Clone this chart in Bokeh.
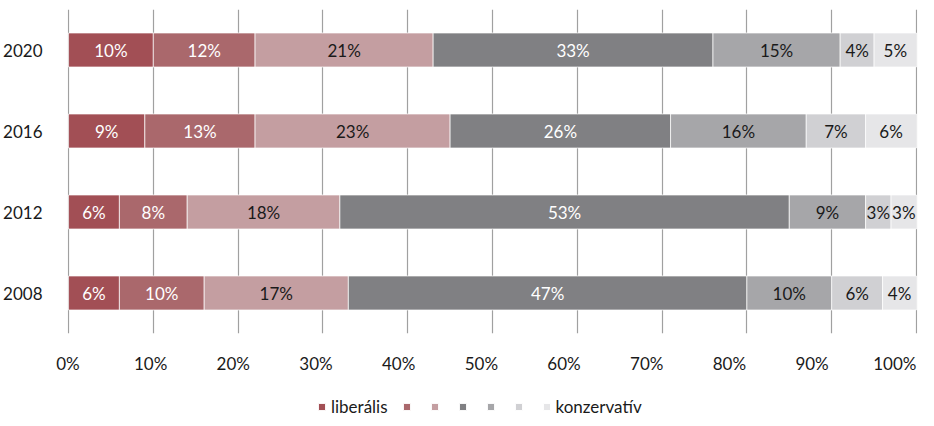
from bokeh.plotting import figure
from bokeh.layouts import column
from bokeh.models import (ColumnDataSource, FactorRange, Range1d, LinearAxis,
                          FixedTicker, Grid, Legend, LegendItem)
from bokeh.core.properties import value
from bokeh.embed import file_html
from bokeh.resources import INLINE

# ---- data ----
years = ["2008", "2012", "2016", "2020"]
s1 = [6, 6, 9, 10]      # liberális
s2 = [10, 8, 13, 12]
s3 = [17, 18, 23, 21]
s4 = [47, 53, 26, 33]
s5 = [10, 9, 16, 15]
s6 = [6, 3, 7, 4]
s7 = [4, 3, 6, 5]       # konzervatív
legend_labels = ["liberális", "", "", "", "", "", "konzervatív"]
tick_values = [0, 10, 20, 30, 40, 50, 60, 70, 80, 90, 100]
tick_labels = ["0%", "10%", "20%", "30%", "40%", "50%", "60%", "70%", "80%", "90%", "100%"]

series = [s1, s2, s3, s4, s5, s6, s7]
names = ["s1", "s2", "s3", "s4", "s5", "s6", "s7"]
colors = ["#A24F55", "#AA686C", "#C49EA1", "#808083", "#A6A6A9", "#D0D0D3", "#E6E6E8"]
text_colors = ["white", "white", "#1a1a1a", "white", "#1a1a1a", "#1a1a1a", "#1a1a1a"]
FONT = "Lato"

data = {"year": years}
for n, s in zip(names, series):
    data[n] = s
src = ColumnDataSource(data)

p = figure(width=918, height=376, y_range=FactorRange(factors=years),
           x_range=Range1d(-0.12, 100.12), x_axis_type=None,
           output_backend="svg", toolbar_location=None,
           min_border_left=67, min_border_right=1, min_border_top=9,
           min_border_bottom=42)
p.outline_line_color = None
p.ygrid.grid_line_color = None

p.add_layout(Grid(dimension=0, ticker=FixedTicker(ticks=tick_values),
                  grid_line_color="#A0A0A0", grid_line_width=1.2))

rends = p.hbar_stack(names, y="year", height=0.42, color=colors, source=src,
                     line_color="white", line_width=0.7)

# segment labels
lx, ly, lt, lc = [], [], [], []
cum = [0] * len(years)
for s, tc in zip(series, text_colors):
    for j, v in enumerate(s):
        lx.append(cum[j] + v / 2)
        ly.append(years[j])
        lt.append(f"{v}%")
        lc.append(tc)
        cum[j] += v
lsrc = ColumnDataSource(dict(x=lx, y=ly, text=lt, color=lc))
p.text(x="x", y="y", text="text", text_color="color", source=lsrc,
       text_align="center", text_baseline="middle",
       text_font=value(FONT), text_font_size="17px")

# y axis
p.yaxis.axis_line_color = None
p.yaxis.major_tick_line_color = None
p.yaxis.minor_tick_line_color = None
p.yaxis.major_label_standoff = 19
p.yaxis.major_label_text_font = FONT
p.yaxis.major_label_text_font_size = "17px"
p.yaxis.major_label_text_color = "#1a1a1a"

# x tick label axis
p.extra_x_ranges = {"lab": Range1d(-0.05, 102.75)}
ax = LinearAxis(x_range_name="lab", ticker=FixedTicker(ticks=tick_values),
                major_label_overrides={v: t for v, t in zip(tick_values, tick_labels)},
                axis_line_color=None, major_tick_line_color=None,
                minor_tick_line_color=None, major_label_standoff=13,
                major_label_text_font=FONT, major_label_text_font_size="17px",
                major_label_text_color="#1a1a1a")
p.add_layout(ax, "below")

# legend strip
p2 = figure(width=918, height=42, x_range=Range1d(0, 1), y_range=Range1d(0, 1),
            x_axis_type=None, y_axis_type=None, output_backend="svg",
            toolbar_location=None, min_border=0)
p2.outline_line_color = None
p2.xgrid.visible = False
p2.ygrid.visible = False
lrends = [p2.hbar(y=[-5], left=[0], right=[1], height=0.5, color=c, line_color="white")
          for c in colors]
items = [LegendItem(label=lab, renderers=[r]) for lab, r in zip(legend_labels, lrends)]
legend = Legend(items=items, location=(250, 1), orientation="horizontal",
                glyph_width=9, glyph_height=9, label_standoff=5, spacing=14,
                padding=0, margin=0, border_line_color=None,
                background_fill_alpha=0, label_width=0, label_height=18,
                label_text_font=FONT, label_text_font_size="17px",
                label_text_color="#1a1a1a")
p2.add_layout(legend, "center")

open("out.html", "w").write(file_html(column(p, p2, spacing=0), INLINE))
